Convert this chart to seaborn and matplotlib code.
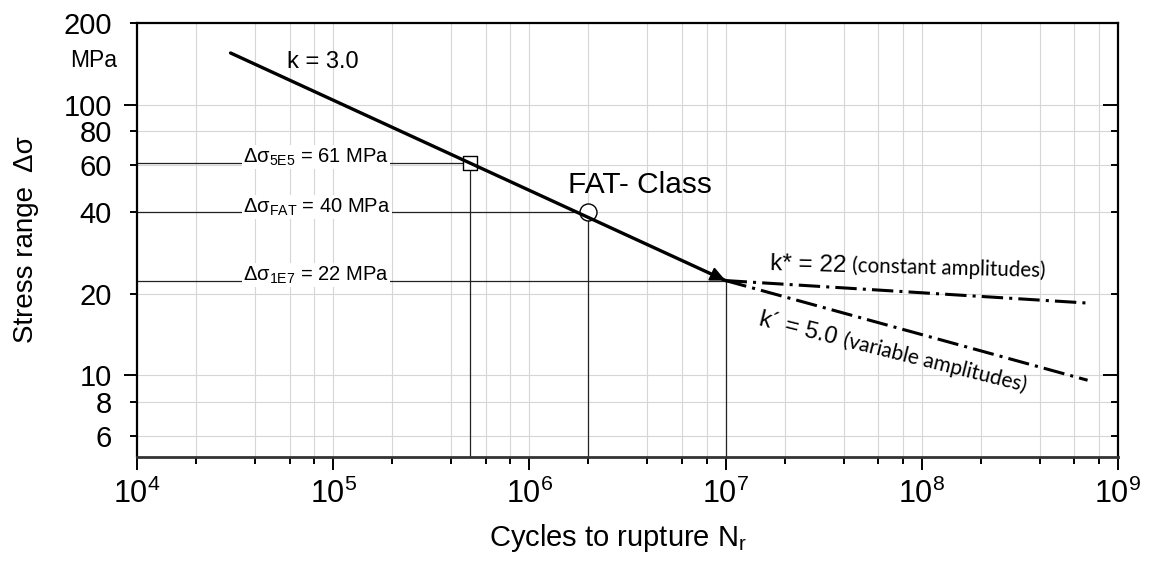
import matplotlib
matplotlib.use("Agg")
import matplotlib.pyplot as plt
import matplotlib.transforms as mtransforms
from matplotlib.ticker import FixedLocator, FixedFormatter, NullFormatter
import seaborn as sns

# ---------------- data ----------------
N_k3 = [3.0e4, 1.0e7]          # k = 3.0 branch
S_k3 = [155.0, 22.4]
N_const = [1.0e7, 7.0e8]       # k* = 22 (constant amplitudes)
S_const = [22.4, 18.5]
N_var = [1.0e7, 7.0e8]         # k' = 5.0 (variable amplitudes)
S_var = [22.4, 9.6]
N_ref = [5.0e5, 2.0e6, 1.0e7]  # reference points
S_ref = [61.0, 40.0, 22.4]
ref_names = ["5E5", "FAT", "1E7"]
ref_values = ["61", "40", "22"]

x_major = [1e4, 1e5, 1e6, 1e7, 1e8, 1e9]
x_major_exp = ["4", "5", "6", "7", "8", "9"]
x_minor = [m * 10.0 ** e for e in range(4, 9) for m in (2, 4, 6, 8)]
y_major = [10, 100]
y_major_labels = ["10", "100"]
y_minor = [6, 8, 20, 40, 60, 80, 200]
y_minor_labels = ["6", "8", "20", "40", "60", "80", "200"]

# ---------------- style ----------------
sns.set_theme(style="white")
plt.rcParams["font.family"] = ["Liberation Sans", "DejaVu Sans"]
plt.rcParams["mathtext.default"] = "regular"
plt.rcParams["text.color"] = "black"
plt.rcParams["axes.labelcolor"] = "black"
plt.rcParams["xtick.color"] = "black"
plt.rcParams["ytick.color"] = "black"

fig = plt.figure(figsize=(11.51, 5.61), dpi=100)
ax = fig.add_axes([0.119, 0.1854, 0.8523, 0.7736])
ax.set_xscale("log")
ax.set_yscale("log")
ax.set_xlim(1e4, 1e9)
ax.set_ylim(5, 200)

ax.grid(True, which="both", color="#d6d6d6", linewidth=0.8)
ax.set_axisbelow(True)

# reference lines
ax.hlines(S_ref, xmin=x_major[0], xmax=N_ref, color="#222222", linewidth=0.9, zorder=2)
ax.vlines(N_ref, ymin=5, ymax=S_ref, color="#222222", linewidth=0.9, zorder=2)

# markers
sns.scatterplot(x=N_ref[:1], y=S_ref[:1], marker="s", s=95, color="white",
                edgecolor="black", linewidth=1.0, zorder=4, ax=ax, legend=False)
sns.scatterplot(x=N_ref[1:2], y=S_ref[1:2], marker="o", s=150, color="white",
                edgecolor="black", linewidth=1.0, zorder=4, ax=ax, legend=False)

# S-N lines
dash = (0, (7, 2, 1, 2))
sns.lineplot(x=N_k3, y=S_k3, ax=ax, color="black", linewidth=2.4, zorder=5,
             sort=False, legend=False)
sns.lineplot(x=N_const, y=S_const, ax=ax, color="black", linewidth=2.2, zorder=5,
             sort=False, legend=False, linestyle=dash)
sns.lineplot(x=N_var, y=S_var, ax=ax, color="black", linewidth=2.2, zorder=5,
             sort=False, legend=False, linestyle=dash)

# arrow head at end of k=3 branch
ax.annotate("", xy=(N_k3[-1], S_k3[-1]), xytext=(-12.0, 5.6), textcoords="offset points",
            arrowprops=dict(arrowstyle="-|>,head_length=0.6,head_width=0.28",
                            color="black", lw=1.5, shrinkA=0, shrinkB=0,
                            mutation_scale=15), zorder=6)

# reference labels
for sv, name, val in zip(S_ref, ref_names, ref_values):
    ax.text(3.47e4, sv, "Δσ$_{%s}$ = %s MPa" % (name, val), fontsize=14.5,
            ha="left", va="baseline", zorder=6,
            bbox=dict(facecolor="white", edgecolor="none", pad=1.0))

ax.text(5.8e4, 137, "k = 3.0", fontsize=17, ha="left", va="baseline", zorder=6)
ax.text(1.57e6, 47, "FAT- Class", fontsize=21.5, ha="left", va="baseline", zorder=6)

ax.text(1.68e7, 24.6, "k* = 22", fontsize=17.5, ha="left", va="baseline",
        rotation=-1.5, rotation_mode="anchor", zorder=6)
ax.text(4.4e7, 24.0, "(constant amplitudes)", fontsize=14.8, family=["Lato", "DejaVu Sans"],
        ha="left", va="baseline", rotation=-1.5, rotation_mode="anchor", zorder=6)
ax.text(1.46e7, 15.3, "k´ = 5.0", fontsize=17, ha="left", va="baseline",
        rotation=-14, rotation_mode="anchor", zorder=6)
ax.text(3.92e7, 12.8, "(variable amplitudes)", fontsize=15, family=["Lato", "DejaVu Sans"],
        ha="left", va="baseline", rotation=-14, rotation_mode="anchor", zorder=6)

# ticks
ax.xaxis.set_major_locator(FixedLocator(x_major))
ax.xaxis.set_major_formatter(FixedFormatter(["10$^{%s}$" % e for e in x_major_exp]))
ax.xaxis.set_minor_locator(FixedLocator(x_minor))
ax.xaxis.set_minor_formatter(NullFormatter())
ax.yaxis.set_major_locator(FixedLocator(y_major))
ax.yaxis.set_major_formatter(FixedFormatter(y_major_labels))
ax.yaxis.set_minor_locator(FixedLocator(y_minor))
ax.yaxis.set_minor_formatter(FixedFormatter(y_minor_labels))

ax.tick_params(axis="x", which="major", direction="out", length=9.4, width=1.4,
               pad=6, labelsize=22, top=False, bottom=True, colors="black")
ax.tick_params(axis="x", which="minor", direction="out", length=5, width=1.4,
               top=False, bottom=True, colors="black")
ax.tick_params(axis="y", which="major", direction="out", length=9.4, width=1.4,
               pad=8.6, labelsize=21, left=True, right=False, colors="black")
ax.tick_params(axis="y", which="minor", direction="out", length=5, width=1.4,
               pad=13, labelsize=21, left=True, right=False, colors="black")

# right-side inward ticks
ax2 = ax.twinx()
ax2.set_yscale("log")
ax2.set_ylim(5, 200)
ax2.yaxis.set_major_locator(FixedLocator(y_major))
ax2.yaxis.set_minor_locator(FixedLocator(y_minor))
ax2.yaxis.set_major_formatter(NullFormatter())
ax2.yaxis.set_minor_formatter(NullFormatter())
ax2.tick_params(axis="y", which="major", direction="in", length=11, width=1.4,
                right=True, colors="black")
ax2.tick_params(axis="y", which="minor", direction="in", length=5, width=1.4,
                right=True, colors="black")
ax2.grid(False)
for s in ax2.spines.values():
    s.set_visible(False)

for name, s in ax.spines.items():
    s.set_color("black")
    s.set_linewidth(1.6)
ax.spines["bottom"].set_linewidth(2.0)
ax.spines["bottom"].set_color("#333333")

# axis labels
trans = mtransforms.blended_transform_factory(ax.transAxes, ax.transData)
ax.text(-0.02, 145, "MPa", transform=trans, ha="right", va="center", fontsize=16.5,
        color="black")
ax.set_ylabel("Stress range  Δσ", fontsize=20, color="black")
ax.yaxis.set_label_coords(-0.1, 0.5)
ax.set_xlabel("Cycles to rupture N$_{r}$", fontsize=21, color="black")
ax.xaxis.set_label_coords(0.49, -0.15)

fig.savefig("out.png", dpi=100)
